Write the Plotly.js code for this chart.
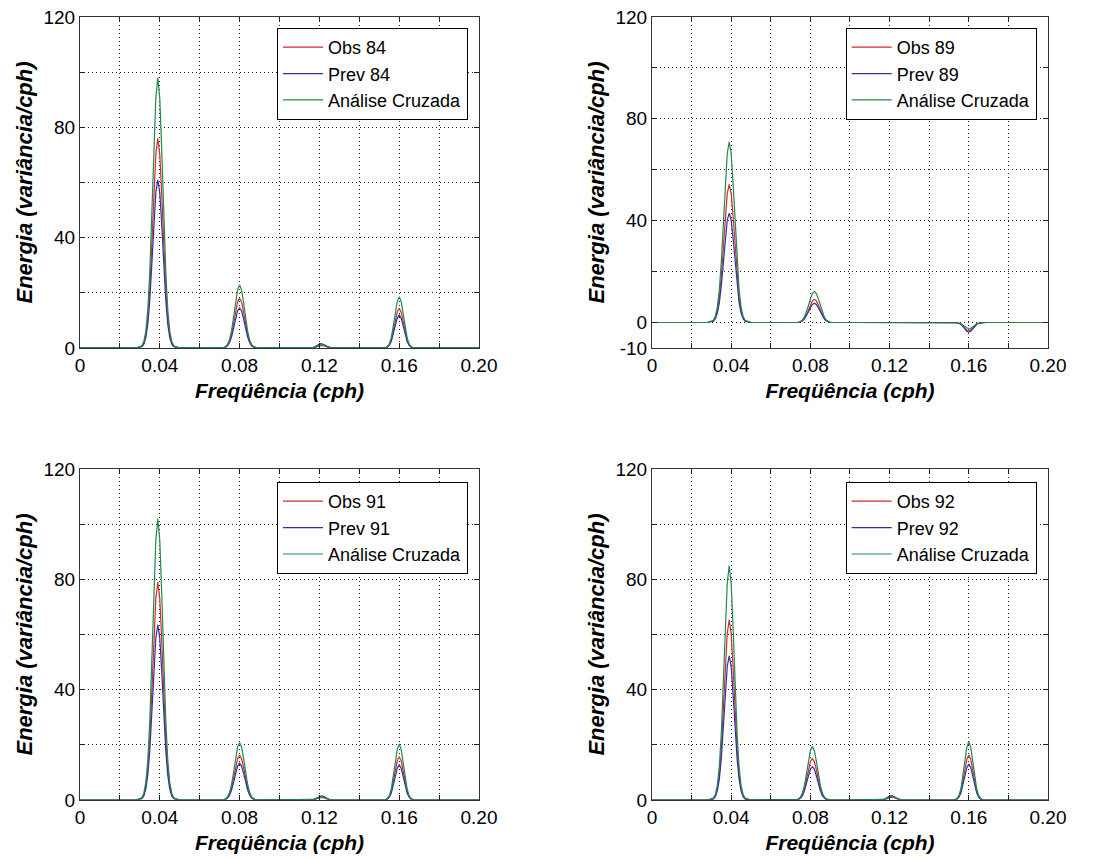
<!DOCTYPE html>
<html>
<head>
<meta charset="utf-8">
<script src="https://cdn.plot.ly/plotly-3.0.1.min.js"></script>
<style>html,body{margin:0;padding:0;background:#fff}#chart{width:1104px;height:861px}</style>
</head>
<body>
<div id="chart"></div>
<script>
// Frequency samples (cph), shared by all panels
const freq = [0, 0.010, 0.020, 0.028,
 0.031, 0.032, 0.033, 0.034, 0.035, 0.036, 0.037, 0.038, 0.039, 0.040, 0.041, 0.042, 0.043, 0.044, 0.045, 0.046, 0.047,
 0.050, 0.060, 0.070,
 0.072, 0.073, 0.074, 0.075, 0.076, 0.077, 0.078, 0.079, 0.080, 0.081, 0.082, 0.083, 0.084, 0.085, 0.086, 0.087, 0.088, 0.089, 0.090,
 0.100, 0.110,
 0.116, 0.117, 0.118, 0.119, 0.120, 0.121, 0.122, 0.123, 0.124, 0.125, 0.126,
 0.130, 0.140, 0.150,
 0.152, 0.153, 0.154, 0.155, 0.156, 0.157, 0.158, 0.159, 0.160, 0.161, 0.162, 0.163, 0.164, 0.165, 0.166, 0.167, 0.168,
 0.170, 0.180, 0.190, 0.200];

// Panel 84
const obs84 = [0,0,0,0,
 0.6,1.8,4.8,10.9,21.6,37.4,55.4,70.2,76,70.1,55.0,37.2,21.4,10.8,4.7,1.8,0.6,
 0,0,0,
 0.1,0.4,1.1,2.5,5.1,8.9,13.2,16.7,18,16.6,13.0,8.8,5.0,2.4,1.0,0.4,0.1,0,0,
 0,0,
 0,0.1,0.3,0.5,0.8,0.9,0.8,0.5,0.3,0.1,0,
 0,0,0,
 0,0.1,0.3,1.1,2.8,5.7,9.5,13.0,14.4,13.0,9.5,5.7,2.8,1.1,0.3,0.1,0,
 0,0,0,0];
const prev84 = [0,0,0,0,
 0.5,1.4,3.8,8.7,17.4,30.0,44.5,56.4,61,56.3,44.2,29.8,17.2,8.6,3.7,1.4,0.5,
 0,0,0,
 0.1,0.3,0.9,2.1,4.1,7.2,10.6,13.5,14.5,13.4,10.5,7.1,4.0,2.0,0.8,0.3,0.1,0,0,
 0,0,
 0.1,0.2,0.5,1.0,1.4,1.6,1.4,1.0,0.5,0.2,0.1,
 0,0,0,
 0,0.1,0.3,0.9,2.3,4.7,7.9,10.8,12,10.8,7.9,4.7,2.3,0.9,0.3,0.1,0,
 0,0,0,0];
const cross84 = [0,0,0,0,
 0.8,2.3,6.2,14.0,27.9,48.2,71.4,90.6,98,90.4,70.9,47.9,27.6,13.9,6.1,2.3,0.8,
 0,0,0,
 0.1,0.5,1.4,3.2,6.4,11.2,16.7,21.1,22.8,21.0,16.5,11.0,6.2,3.0,1.3,0.5,0.1,0,0,
 0,0,
 0.1,0.2,0.4,0.7,1.1,1.2,1.1,0.7,0.4,0.2,0.1,
 0,0,0,
 0,0.1,0.4,1.4,3.6,7.3,12.3,16.8,18.6,16.8,12.3,7.3,3.6,1.4,0.4,0.1,0,
 0,0,0,0];

// Panel 89
const obs89 = [0,0,0,0,
 0.7,1.9,4.6,9.8,18.1,29.3,41.3,50.7,54.3,50.7,41.3,29.3,18.1,9.8,4.6,1.9,0.7,
 0,0,0,
 0,0,0.1,0.3,0.8,1.6,3.0,4.9,6.9,8.5,9.1,8.5,6.9,4.9,3.0,1.6,0.8,0.3,0.1,
 0,0,
 0,0,0,0,0,0,0,0,0,0,0,
 0,0,0,
 0,0,-0.1,-0.3,-0.6,-1.3,-2.3,-3.1,-3.4,-3.1,-2.3,-1.3,-0.6,-0.3,-0.1,0,0,
 0,0,0,0];
const prev89 = [0,0,0,0,
 0.5,1.5,3.7,7.7,14.4,23.2,32.7,40.2,43,40.2,32.7,23.2,14.4,7.7,3.7,1.5,0.5,
 0,0,0,
 0,0,0.1,0.3,0.6,1.4,2.5,4.1,5.8,7.1,7.6,7.1,5.8,4.1,2.5,1.4,0.6,0.3,0.1,
 0,0,
 0,0,0,0,0.2,0.2,0.2,0.2,0.2,0.2,0.2,
 0,0,0,
 0,0,-0.1,-0.3,-0.7,-1.5,-2.5,-3.4,-3.8,-3.4,-2.5,-1.5,-0.7,-0.3,-0.1,0,0,
 0,0,0,0];
const cross89 = [0,0,0,0,
 0.9,2.5,6.0,12.8,23.7,38.3,54.0,66.3,71,66.3,54.0,38.3,23.7,12.8,6.0,2.5,0.9,
 0,0,0,
 0,0,0.1,0.4,1.0,2.2,4.1,6.6,9.3,11.4,12.2,11.4,9.3,6.6,4.1,2.2,1.0,0.4,0.1,
 0,0,
 0,0,0,0,0,0,0,0,0,0,0,
 0,0,0,
 0,0,-0.1,-0.2,-0.5,-1.0,-1.7,-2.3,-2.6,-2.3,-1.7,-1.0,-0.5,-0.2,-0.1,0,0,
 0,0,0,0];

// Panel 91
const obs91 = [0,0,0,0,
 0.6,1.9,5.0,11.3,22.5,38.9,57.6,73.0,79,72.9,57.2,38.7,22.3,11.2,4.9,1.9,0.6,
 0,0,0,
 0.1,0.3,0.9,2.2,4.5,7.9,11.8,15.0,16.3,15.0,11.8,7.9,4.5,2.2,0.9,0.3,0.1,0,0,
 0,0,
 0,0.1,0.3,0.5,0.8,0.9,0.8,0.5,0.3,0.1,0,
 0,0,0,
 0,0.1,0.4,1.2,3.0,6.2,10.4,14.2,15.7,14.2,10.4,6.2,3.0,1.2,0.4,0.1,0,
 0,0,0,0];
const prev91 = [0,0,0,0,
 0.5,1.5,4.0,9.1,18.1,31.2,46.3,58.7,63.5,58.6,46.0,31.0,17.9,9.0,3.9,1.5,0.5,
 0,0,0,
 0.1,0.3,0.7,1.8,3.7,6.5,9.7,12.3,13.3,12.3,9.7,6.5,3.7,1.8,0.7,0.3,0.1,0,0,
 0,0,
 0.1,0.2,0.5,0.9,1.3,1.5,1.3,0.9,0.5,0.2,0.1,
 0,0,0,
 0,0.1,0.3,1.0,2.4,5.0,8.4,11.5,12.7,11.5,8.4,5.0,2.4,1.0,0.3,0.1,0,
 0,0,0,0];
const cross91 = [0,0,0,0,
 0.8,2.4,6.4,14.6,29.0,50.2,74.4,94.2,102,94.0,73.9,49.9,28.8,14.5,6.3,2.4,0.8,
 0,0,0,
 0.1,0.4,1.2,2.8,5.8,10.1,15.1,19.2,20.8,19.2,15.1,10.1,5.8,2.8,1.2,0.4,0.1,0,0,
 0,0,
 0.1,0.2,0.4,0.7,1.1,1.2,1.1,0.7,0.4,0.2,0.1,
 0,0,0,
 0,0.1,0.5,1.5,3.9,8.0,13.4,18.3,20.3,18.3,13.4,8.0,3.9,1.5,0.5,0.1,0,
 0,0,0,0];

// Panel 92
const obs92 = [0,0,0,0,
 0.5,1.6,4.1,9.3,18.6,32.1,47.6,60.4,65.3,60.3,47.3,31.9,18.4,9.2,4.0,1.6,0.5,
 0,0,0,
 0,0.1,0.3,0.8,2.0,4.2,7.4,11.0,13.9,15.1,13.9,11.0,7.4,4.2,2.0,0.8,0.3,0.1,0,
 0,0,
 0,0.1,0.3,0.6,0.9,1.0,0.9,0.6,0.3,0.1,0,
 0,0,0,
 0,0.1,0.4,1.2,3.1,6.4,10.8,14.7,16.3,14.7,10.8,6.4,3.1,1.2,0.4,0.1,0,
 0,0,0,0];
const prev92 = [0,0,0,0,
 0.4,1.2,3.3,7.5,14.9,25.8,38.2,48.4,52.3,48.3,37.9,25.6,14.8,7.4,3.2,1.2,0.4,
 0,0,0,
 0,0.1,0.2,0.7,1.6,3.4,5.9,8.8,11.2,12.1,11.2,8.8,5.9,3.4,1.6,0.7,0.2,0.1,0,
 0,0,
 0.1,0.2,0.5,1.0,1.4,1.6,1.4,1.0,0.5,0.2,0.1,
 0,0,0,
 0,0.1,0.3,1.0,2.5,5.1,8.6,11.7,13,11.7,8.6,5.1,2.5,1.0,0.3,0.1,0,
 0,0,0,0];
const cross92 = [0,0,0,0,
 0.7,2.0,5.3,12.1,24.1,41.8,61.9,78.6,85,78.4,61.5,41.6,23.9,12.0,5.2,2.0,0.7,
 0,0,0,
 0,0.1,0.4,1.1,2.6,5.4,9.4,14.1,17.9,19.4,17.9,14.1,9.4,5.4,2.6,1.1,0.4,0.1,0,
 0,0,
 0.1,0.2,0.4,0.8,1.1,1.3,1.1,0.8,0.4,0.2,0.1,
 0,0,0,
 0,0.1,0.5,1.6,4.0,8.4,14.0,19.1,21.2,19.1,14.0,8.4,4.0,1.6,0.5,0.1,0,
 0,0,0,0];

const panelIds = ['84', '89', '91', '92'];
const obsSeries = [obs84, obs89, obs91, obs92];
const prevSeries = [prev84, prev89, prev91, prev92];
const crossSeries = [cross84, cross89, cross91, cross92];

const xTickVals = [0, 0.02, 0.04, 0.06, 0.08, 0.10, 0.12, 0.14, 0.16, 0.18, 0.20];
const xTickText = ['0', '', '0.04', '', '0.08', '', '0.12', '', '0.16', '', '0.20'];
const yTickVals = [0, 20, 40, 60, 80, 100, 120];
const yTickText = ['0', '', '40', '', '80', '', '120'];
const yTickVals89 = [-10, 0, 20, 40, 60, 80, 100, 120];
const yTickText89 = ['-10', '0', '', '40', '', '80', '', '120'];

const FONT = 'Liberation Sans, Arial, Helvetica, sans-serif';
const colors = {obs: '#d42a2a', prev: '#3030a8', cross: '#22894a'};

const traces = [];
panelIds.forEach((id, i) => {
  const n = i + 1;
  const xa = n === 1 ? 'x' : 'x' + n;
  const ya = n === 1 ? 'y' : 'y' + n;
  const lg = n === 1 ? 'legend' : 'legend' + n;
  traces.push({x: freq, y: obsSeries[i], name: 'Obs ' + id, type: 'scatter', mode: 'lines',
    line: {color: colors.obs, width: 1.2}, xaxis: xa, yaxis: ya, legend: lg});
  traces.push({x: freq, y: prevSeries[i], name: 'Prev ' + id, type: 'scatter', mode: 'lines',
    line: {color: colors.prev, width: 1.2}, xaxis: xa, yaxis: ya, legend: lg});
  traces.push({x: freq, y: crossSeries[i], name: 'Análise Cruzada', type: 'scatter', mode: 'lines',
    line: {color: colors.cross, width: 1.2}, xaxis: xa, yaxis: ya, legend: lg});
});

function xAxis(domain, anchor) {
  return {
    domain: domain, anchor: anchor, range: [0, 0.2],
    tickmode: 'array', tickvals: xTickVals, ticktext: xTickText,
    ticks: 'inside', ticklen: 5, tickcolor: '#222', tickwidth: 1,
    showgrid: true, gridcolor: '#222', griddash: '1px,3px', gridwidth: 1,
    showline: true, linecolor: '#333', linewidth: 1, mirror: 'ticks', zeroline: false,
    tickfont: {family: FONT, size: 19, color: '#000'},
    title: {text: 'Freqüência (cph)', standoff: 8,
      font: {family: FONT, size: 21, color: '#000', weight: 'bold', style: 'italic'}}
  };
}
function yAxis(domain, anchor, range, vals, text) {
  return {
    domain: domain, anchor: anchor, range: range,
    tickmode: 'array', tickvals: vals, ticktext: text,
    ticks: 'inside', ticklen: 5, tickcolor: '#222', tickwidth: 1,
    showgrid: true, gridcolor: '#222', griddash: '1px,3px', gridwidth: 1,
    showline: true, linecolor: '#333', linewidth: 1, mirror: 'ticks', zeroline: false,
    tickfont: {family: FONT, size: 19, color: '#000'},
    title: {text: 'Energia (variância/cph)', standoff: 4,
      font: {family: FONT, size: 22, color: '#000', weight: 'bold', style: 'italic'}}
  };
}
function legendAt(x, y) {
  return {
    x: x, y: y, xanchor: 'right', yanchor: 'top',
    bgcolor: '#ffffff', bordercolor: '#000', borderwidth: 1,
    font: {family: FONT, size: 18, color: '#000'}, tracegroupgap: 0, itemwidth: 40
  };
}

const leftX = [0, 0.4122], rightX = [0.5909, 1];
const topY = [0.5773, 1], botY = [0, 0.4227];

const layout = {
  width: 1104, height: 861,
  margin: {l: 80, r: 56, t: 17, b: 61},
  paper_bgcolor: '#ffffff', plot_bgcolor: '#ffffff',
  showlegend: true,
  xaxis: xAxis(leftX, 'y'),
  xaxis2: xAxis(rightX, 'y2'),
  xaxis3: xAxis(leftX, 'y3'),
  xaxis4: xAxis(rightX, 'y4'),
  yaxis: yAxis(topY, 'x', [0, 120], yTickVals, yTickText),
  yaxis2: yAxis(topY, 'x2', [-10, 120], yTickVals89, yTickText89),
  yaxis3: yAxis(botY, 'x3', [0, 120], yTickVals, yTickText),
  yaxis4: yAxis(botY, 'x4', [0, 120], yTickVals, yTickText),
  legend: legendAt(0.4008, 0.986),
  legend2: legendAt(0.9883, 0.986),
  legend3: legendAt(0.4008, 0.4061),
  legend4: legendAt(0.9883, 0.4061)
};

Plotly.newPlot('chart', traces, layout, {displayModeBar: false, staticPlot: true});
</script>
</body>
</html>
